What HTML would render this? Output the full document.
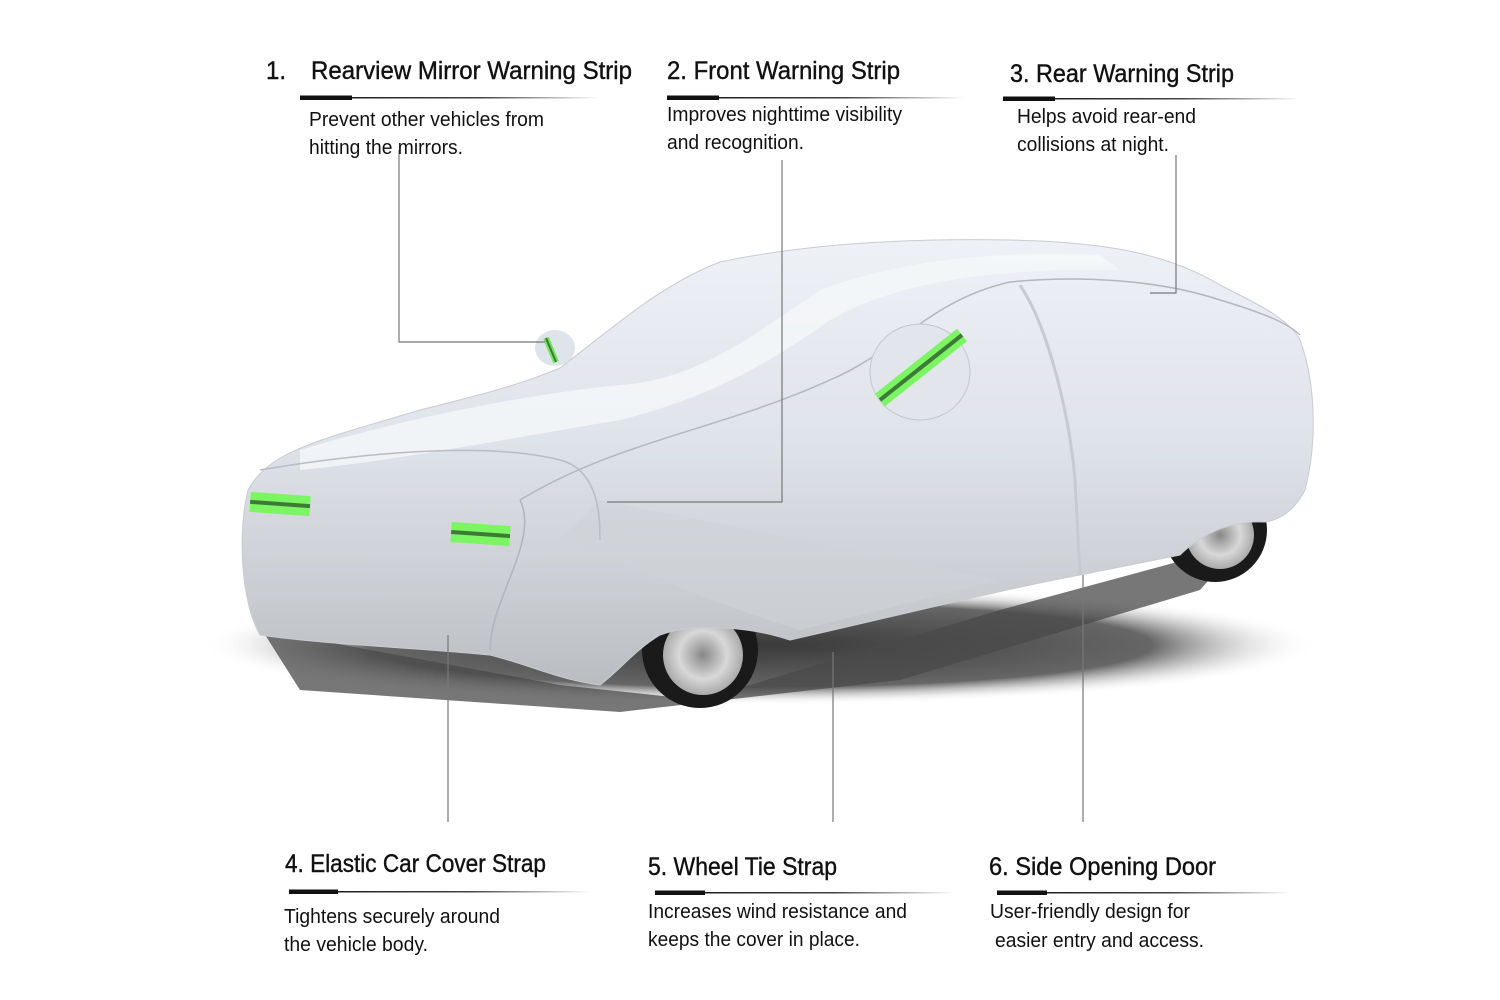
<!DOCTYPE html>
<html><head><meta charset="utf-8"><style>
html,body{margin:0;padding:0;background:#fff;}
svg{display:block}
.t{font-family:"Liberation Sans",sans-serif;font-size:25px;fill:#111;stroke:#111;stroke-width:0.4;}
.b{font-family:"Liberation Sans",sans-serif;font-size:20px;fill:#111;}
</style></head><body>
<svg width="1500" height="1000" viewBox="0 0 1500 1000" xmlns="http://www.w3.org/2000/svg">
<defs>
<linearGradient id="ul" x1="0" x2="1" y1="0" y2="0">
<stop offset="0" stop-color="#111"/><stop offset="0.6" stop-color="#444"/><stop offset="1" stop-color="#fff"/>
</linearGradient>
<linearGradient id="body" x1="0" y1="0" x2="0" y2="1">
<stop offset="0" stop-color="#eef1f6"/><stop offset="0.45" stop-color="#dfe3ea"/><stop offset="0.8" stop-color="#c9ccd1"/><stop offset="1" stop-color="#b9bcc1"/>
</linearGradient>
<radialGradient id="sh" cx="0.5" cy="0.5" r="0.5">
<stop offset="0" stop-color="#3a3a3a"/><stop offset="0.7" stop-color="#666"/><stop offset="1" stop-color="#fff" stop-opacity="0"/>
</radialGradient>
<radialGradient id="rim" cx="0.5" cy="0.5" r="0.5">
<stop offset="0" stop-color="#888"/><stop offset="0.6" stop-color="#d8d8d8"/><stop offset="1" stop-color="#aaa"/>
</radialGradient>
</defs>

<!-- shadow -->
<ellipse cx="760" cy="645" rx="560" ry="60" fill="url(#sh)"/>
<path d="M262 630 L560 685 L700 700 L1000 610 L1240 545 L1200 590 L900 680 L620 712 L300 690 Z" fill="#4a4a4a" opacity="0.75"/>

<!-- wheels -->
<circle cx="700" cy="650" r="58" fill="#1a1a1a"/>
<circle cx="703" cy="655" r="40" fill="url(#rim)"/>
<circle cx="1215" cy="530" r="52" fill="#1a1a1a"/>
<circle cx="1220" cy="535" r="34" fill="url(#rim)"/>

<!-- car body -->
<path d="M248 490 C270 450 320 440 420 410 C480 395 520 385 560 368 C610 330 660 285 720 262 C800 245 900 238 1010 240 C1110 242 1170 255 1220 285 C1260 305 1290 320 1300 340 C1315 380 1318 440 1305 490 C1295 510 1280 520 1265 522 C1230 520 1200 535 1180 555 L1080 575 C1000 590 900 615 790 640 C760 630 700 620 660 635 C635 650 620 670 600 685 C560 680 530 665 490 655 C420 648 330 645 260 635 C240 600 238 530 248 490 Z" fill="url(#body)" stroke="#c8ccd2" stroke-width="1"/>
<!-- highlights -->
<path d="M300 450 C400 420 520 395 620 385 C700 380 760 330 820 290 C900 260 1000 250 1100 255 L1120 270 C1000 268 900 280 830 320 C760 370 700 400 620 420 C500 440 400 460 300 470 Z" fill="#f5f7fa" opacity="0.8"/>
<path d="M600 500 C700 520 800 540 900 560 L1000 580 L800 630 C700 600 620 560 560 540 Z" fill="#cfd2d7" opacity="0.6"/>
<!-- seams -->
<path d="M260 470 C350 455 480 440 560 460 C600 470 600 520 600 540" stroke="#b8bcc3" fill="none" stroke-width="1.5"/>
<path d="M520 500 C540 540 490 600 490 650" stroke="#b0b4ba" fill="none" stroke-width="1.5"/>
<path d="M520 500 C620 440 720 430 830 380 C900 350 930 300 1010 282 C1080 275 1160 280 1220 300 C1270 315 1290 325 1300 335" stroke="#b3b7be" fill="none" stroke-width="1.5"/>
<path d="M1020 285 C1050 330 1070 420 1075 480 L1080 575" stroke="#c7cbd1" fill="none" stroke-width="3"/>

<!-- mirrors -->
<ellipse cx="555" cy="348" rx="20" ry="18" fill="#dfe3ea"/>
<path d="M546 338 L556 362" stroke="#6ee55a" stroke-width="6"/>
<path d="M546 338 L556 362" stroke="#3d7a38" stroke-width="2"/>
<ellipse cx="920" cy="372" rx="50" ry="48" fill="#e2e6ec" stroke="#c3c7cd"/>
<path d="M880 400 L962 335" stroke="#7cf562" stroke-width="16"/>
<path d="M880 400 L962 335" stroke="#3d7a38" stroke-width="4"/>

<!-- front strips -->
<g transform="rotate(4 280 505)">
<rect x="250" y="494" width="60" height="20" fill="#7cf562"/>
<rect x="250" y="502" width="60" height="4" fill="#3d7a38"/>
</g>
<g transform="rotate(4 480 535)">
<rect x="451" y="524" width="59" height="20" fill="#7cf562"/>
<rect x="451" y="532" width="59" height="4" fill="#3d7a38"/>
</g>

<!-- leader lines -->
<g stroke="#777" stroke-width="1.2" fill="none">
<path d="M399 150 L399 342 L545 342"/>
<path d="M782 160 L782 502 L607 502"/>
<path d="M1176 155 L1176 293 L1150 293"/>
<path d="M448 635 L448 822"/>
<path d="M833 652 L833 822"/>
<path d="M1083 575 L1083 822"/>
</g>

<!-- underlines -->
<rect x="300" y="97" width="300" height="1.5" fill="url(#ul)"/><rect x="300" y="95.5" width="52" height="4.5" fill="#111"/>
<rect x="667" y="97" width="298" height="1.5" fill="url(#ul)"/><rect x="667" y="95.5" width="52" height="4.5" fill="#111"/>
<rect x="1003" y="98" width="297" height="1.5" fill="url(#ul)"/><rect x="1003" y="96.5" width="52" height="4.5" fill="#111"/>
<rect x="289" y="891" width="301" height="1.5" fill="url(#ul)"/><rect x="289" y="889.5" width="49" height="4.5" fill="#111"/>
<rect x="655" y="892" width="300" height="1.5" fill="url(#ul)"/><rect x="655" y="890.5" width="50" height="4.5" fill="#111"/>
<rect x="997" y="892" width="293" height="1.5" fill="url(#ul)"/><rect x="997" y="890.5" width="50" height="4.5" fill="#111"/>

<!-- titles -->
<text class="t" x="266" y="79" textLength="20" lengthAdjust="spacingAndGlyphs">1.</text>
<text class="t" x="311" y="79" textLength="321" lengthAdjust="spacingAndGlyphs">Rearview Mirror Warning Strip</text>
<text class="t" x="667" y="79" textLength="233" lengthAdjust="spacingAndGlyphs">2. Front Warning Strip</text>
<text class="t" x="1010" y="82" textLength="224" lengthAdjust="spacingAndGlyphs">3. Rear Warning Strip</text>
<text class="t" x="285" y="872" textLength="261" lengthAdjust="spacingAndGlyphs">4. Elastic Car Cover Strap</text>
<text class="t" x="648" y="875" textLength="189" lengthAdjust="spacingAndGlyphs">5. Wheel Tie Strap</text>
<text class="t" x="989" y="875" textLength="227" lengthAdjust="spacingAndGlyphs">6. Side Opening Door</text>

<!-- body text -->
<text class="b" x="309" y="126" textLength="235" lengthAdjust="spacingAndGlyphs">Prevent other vehicles from</text>
<text class="b" x="309" y="154" textLength="154" lengthAdjust="spacingAndGlyphs">hitting the mirrors.</text>
<text class="b" x="667" y="121" textLength="235" lengthAdjust="spacingAndGlyphs">Improves nighttime visibility</text>
<text class="b" x="667" y="149" textLength="137" lengthAdjust="spacingAndGlyphs">and recognition.</text>
<text class="b" x="1017" y="123" textLength="179" lengthAdjust="spacingAndGlyphs">Helps avoid rear-end</text>
<text class="b" x="1017" y="151" textLength="152" lengthAdjust="spacingAndGlyphs">collisions at night.</text>
<text class="b" x="284" y="923" textLength="216" lengthAdjust="spacingAndGlyphs">Tightens securely around</text>
<text class="b" x="284" y="951" textLength="144" lengthAdjust="spacingAndGlyphs">the vehicle body.</text>
<text class="b" x="648" y="918" textLength="259" lengthAdjust="spacingAndGlyphs">Increases wind resistance and</text>
<text class="b" x="648" y="946" textLength="212" lengthAdjust="spacingAndGlyphs">keeps the cover in place.</text>
<text class="b" x="990" y="918" textLength="200" lengthAdjust="spacingAndGlyphs">User-friendly design for</text>
<text class="b" x="995" y="947" textLength="209" lengthAdjust="spacingAndGlyphs">easier entry and access.</text>
</svg>
</body></html>
